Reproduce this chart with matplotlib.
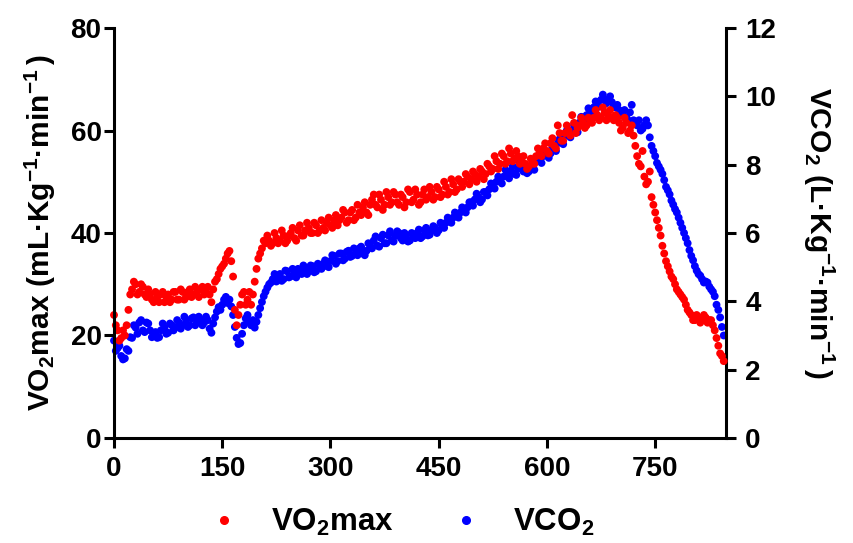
import numpy as np
import matplotlib
matplotlib.use("Agg")
import matplotlib.pyplot as plt
from matplotlib.lines import Line2D

plt.rcParams['font.family'] = ['Liberation Sans', 'DejaVu Sans']
plt.rcParams['font.weight'] = 'bold'
plt.rcParams['mathtext.fontset'] = 'custom'
plt.rcParams['mathtext.rm'] = 'Liberation Sans:bold'
plt.rcParams['mathtext.bf'] = 'Liberation Sans:bold'
plt.rcParams['mathtext.it'] = 'Liberation Sans:bold'

# time (s): two interleaved breath samples
time_a = list(range(0, 850, 5))
time_b = [t + 2.5 for t in range(0, 845, 5)]

# VO2max (mL·Kg-1·min-1), left axis
vo2max_a = [
    24, 21, 19.5, 20, 25, 29, 30, 28.5, 29.5, 27.5,
    28, 26.5, 27.5, 28, 26.5, 28, 27, 28.5, 27, 28.5,
    27.5, 29, 28, 28.5, 29, 28, 29.5, 26.5, 30.5, 32,
    33.5, 35, 36.5, 31.5, 22, 26, 28.5, 27, 26, 30.5,
    35, 37, 38, 38.5, 38, 39, 38.5, 39.5, 38.5, 40,
    39, 40.5, 39.5, 40.5, 41, 40, 41.5, 40.5, 41, 42,
    41.5, 42.5, 41.5, 43, 44, 42.5, 44.5, 43, 44, 45,
    44, 45.5, 47.5, 45, 46.5, 45.5, 47, 46, 47.5, 45.5,
    47, 46, 48, 46.5, 47.5, 46, 48.5, 47, 48, 47,
    48.5, 47.5, 49, 48, 49.5, 48.5, 50, 50, 51, 50.5,
    51.5, 51, 52, 51.5, 53, 52.5, 54, 53.5, 55, 54,
    55.5, 54.5, 55, 54, 53.5, 53, 54, 55, 55.5, 56.5,
    56, 57.5, 57, 61, 58, 59.5, 60, 63, 59.5, 61,
    61.5, 61, 62, 62.5, 63, 62.5, 63.5, 63, 62.5, 63,
    61.5, 60.5, 61.5, 60, 59, 55, 53, 51, 50, 47,
    44, 41, 37.5, 34.5, 32.5, 31, 29, 28, 27, 25,
    24, 23, 23.5, 23, 23.5, 23, 22, 19.5, 16.5, 15,
]
vo2max_b = [
    22, 19, 21, 22, 28, 30.5, 28, 30, 28, 29,
    27, 28.5, 26.5, 28.5, 27.5, 26.5, 28.5, 27, 29, 27,
    28.5, 27.5, 29.5, 27.5, 29.5, 28.5, 28, 29, 31, 33,
    34, 36, 34.5, 25, 24, 28, 26, 28.5, 28, 33,
    36, 38.5, 39.5, 37.5, 40, 38, 40.5, 38, 39.5, 41,
    38.5, 41.5, 39.5, 42, 40, 42, 40, 42.5, 40.5, 43,
    41, 43.5, 42.5, 44.5, 42, 44, 42.5, 45.5, 43.5, 46,
    43.5, 46.5, 45.5, 47.5, 44.5, 48, 45.5, 48, 46, 47.5,
    45, 48.5, 46, 48.5, 45.5, 47.5, 46.5, 49, 46.5, 49,
    47, 50, 47.5, 50.5, 48, 50.5, 49, 51.5, 49.5, 52,
    50, 52.5, 50.5, 53.5, 52, 55, 52.5, 55.5, 53.5, 56.5,
    54, 56, 53.5, 55, 52.5, 54.5, 53.5, 56.5, 55, 57.5,
    55.5, 58.5, 56.5, 59.5, 58, 61, 59, 61.5, 60.5, 62.5,
    60.5, 62.5, 61.5, 64, 62, 64.5, 62, 64, 62, 62.5,
    60, 62.5, 59.5, 61, 57, 53.5, 56, 49.5, 52, 45.5,
    42.5, 39.5, 36, 33.5, 31.5, 30, 28.5, 27.5, 26, 24.5,
    23, 24, 22.5, 24, 22.5, 23, 21, 18, 16,
]

# VCO2 (L·Kg-1·min-1), right axis
vco2_a = [
    2.85, 2.63, 2.40, 2.33, 2.55, 2.93, 3.23, 3.38, 3.15, 3.38,
    3.15, 3.00, 2.93, 3.15, 3.23, 3.08, 3.30, 3.23, 3.38, 3.30,
    3.45, 3.30, 3.53, 3.38, 3.45, 3.38, 3.45, 3.08, 3.53, 3.83,
    3.90, 4.13, 4.05, 3.60, 2.93, 2.78, 3.30, 3.60, 3.30, 3.23,
    3.60, 3.98, 4.28, 4.50, 4.65, 4.58, 4.80, 4.65, 4.88, 4.73,
    4.80, 4.95, 4.80, 4.95, 4.88, 5.03, 4.88, 5.03, 5.10, 5.03,
    5.18, 5.33, 5.18, 5.40, 5.25, 5.48, 5.33, 5.40, 5.55, 5.40,
    5.48, 5.63, 5.78, 5.63, 5.85, 5.70, 5.93, 5.78, 5.93, 6.00,
    5.78, 5.93, 5.78, 5.93, 6.00, 5.85, 6.08, 5.93, 6.08, 6.15,
    6.08, 6.23, 6.30, 6.38, 6.45, 6.53, 6.60, 6.68, 6.75, 6.90,
    6.98, 7.05, 6.98, 7.20, 7.28, 7.43, 7.50, 7.58, 7.65, 7.73,
    7.80, 7.73, 7.88, 7.95, 7.88, 7.80, 7.95, 8.10, 8.18, 8.25,
    8.33, 8.33, 8.48, 8.63, 8.70, 8.85, 8.93, 9.00, 9.08, 9.23,
    9.38, 9.45, 9.53, 9.68, 9.83, 9.90, 9.90, 9.90, 9.83, 9.68,
    9.60, 9.53, 9.38, 9.53, 9.30, 9.15, 9.00, 9.15, 9.15, 8.55,
    8.25, 7.95, 7.73, 7.35, 7.13, 6.83, 6.60, 6.30, 6.00, 5.70,
    5.33, 5.03, 4.80, 4.65, 4.58, 4.43, 4.28, 3.90, 3.53, 3.00,
]
vco2_b = [
    2.55, 2.70, 2.30, 2.60, 2.95, 3.30, 3.05, 3.45, 3.10, 3.35,
    2.95, 3.10, 2.95, 3.35, 3.05, 3.35, 3.15, 3.45, 3.20, 3.55,
    3.25, 3.50, 3.30, 3.55, 3.30, 3.55, 3.20, 3.35, 3.70, 3.75,
    4.05, 3.95, 3.85, 3.25, 2.75, 3.05, 3.50, 3.40, 3.45, 3.40,
    3.80, 4.15, 4.40, 4.55, 4.80, 4.70, 4.60, 4.90, 4.70, 4.95,
    4.70, 4.85, 5.05, 4.80, 5.05, 4.85, 5.10, 4.95, 5.20, 5.00,
    5.35, 5.10, 5.40, 5.20, 5.45, 5.30, 5.55, 5.35, 5.60, 5.35,
    5.70, 5.55, 5.90, 5.60, 5.95, 5.70, 6.05, 5.75, 6.05, 5.85,
    6.00, 5.75, 6.00, 5.85, 6.10, 5.90, 6.15, 5.95, 6.20, 6.00,
    6.30, 6.15, 6.45, 6.30, 6.60, 6.45, 6.75, 6.60, 6.90, 6.80,
    7.15, 6.90, 7.20, 7.10, 7.45, 7.30, 7.65, 7.45, 7.85, 7.60,
    7.95, 7.70, 8.05, 7.80, 7.75, 7.95, 7.85, 8.25, 8.05, 8.40,
    8.20, 8.50, 8.40, 8.75, 8.60, 9.00, 8.80, 9.15, 8.95, 9.40,
    9.25, 9.65, 9.45, 9.85, 9.70, 10.05, 9.80, 10.00, 9.70, 9.75,
    9.45, 9.60, 9.30, 9.75, 9.20, 9.30, 9.05, 9.30, 8.80, 8.40,
    8.05, 7.85, 7.55, 7.25, 6.95, 6.70, 6.45, 6.15, 5.85, 5.50,
    5.20, 4.90, 4.75, 4.55, 4.55, 4.35, 4.15, 3.75, 3.25,
]

x_ticks = [0, 150, 300, 450, 600, 750]
left_ticks = [0, 20, 40, 60, 80]
right_ticks = [0, 2, 4, 6, 8, 10, 12]

RED = '#FF0000'
BLUE = '#0000FF'
TICK_FS = 20
LAB_FS = 21.5
LEG_FS = 22.5
MS = 32

fig = plt.figure(figsize=(8.54, 5.43), dpi=100)
ax = fig.add_axes([0.1335, 0.1934, 0.7165, 0.755])
ax2 = ax.twinx()

ax2.scatter(time_a + time_b, vco2_a + vco2_b, s=MS, color=BLUE,
            edgecolors='none', clip_on=False)
ax.scatter(time_a + time_b, vo2max_a + vo2max_b, s=MS, color=RED,
           edgecolors='none', clip_on=False)

ax.set_zorder(ax2.get_zorder() + 1)
ax.patch.set_visible(False)

ax.set_xlim(0, 848)
ax.set_ylim(0, 80)
ax2.set_ylim(0, 12)
ax.set_xticks(x_ticks)
ax.set_yticks(left_ticks)
ax2.set_yticks(right_ticks)

for a in (ax, ax2):
    a.spines['top'].set_visible(False)
    for s in ('left', 'right', 'bottom'):
        a.spines[s].set_linewidth(2.2)
    a.tick_params(width=2.2, length=7, labelsize=TICK_FS, direction='out')
ax.spines['right'].set_visible(False)
ax2.spines['left'].set_visible(False)
ax2.spines['bottom'].set_visible(False)
ax.tick_params(axis='x', pad=6)
ax.tick_params(axis='y', pad=2)
ax2.tick_params(axis='y', pad=7)
for lab in ax.get_xticklabels() + ax.get_yticklabels() + ax2.get_yticklabels():
    lab.set_fontweight('bold')

ax.set_ylabel(r'$\mathbf{VO_2max\ (mL·Kg^{-1}·min^{-1}\,)}$',
              fontsize=LAB_FS, labelpad=9)
ax2.set_ylabel(r'$\mathbf{VCO_2\ (L·Kg^{-1}·min^{-1}\,)}$',
               fontsize=LAB_FS, rotation=270, labelpad=43)

handles = [Line2D([], [], marker='o', linestyle='none', color=RED, markersize=5.5),
           Line2D([], [], marker='o', linestyle='none', color=BLUE, markersize=5.5)]
fig.legend(handles, [r'$\mathbf{VO_2max}$', r'$\mathbf{VCO_2}$'],
           loc='center', bbox_to_anchor=(0.47, 0.038), ncol=2, frameon=False,
           fontsize=LEG_FS, handlelength=1.0, handletextpad=1.0, columnspacing=1.8)

fig.savefig('out.png', dpi=100)
